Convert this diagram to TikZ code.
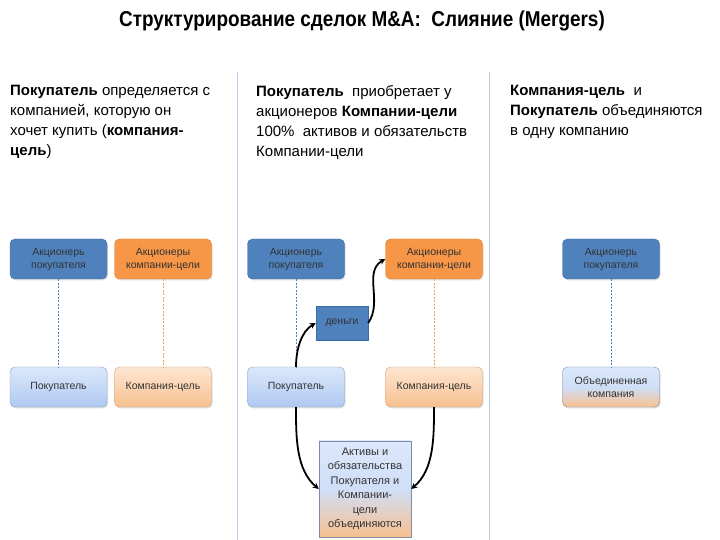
\documentclass[tikz,border=0pt]{standalone}
\usepackage{fontspec}
\setmainfont{Liberation Sans}
\usetikzlibrary{arrows.meta,shadows}
\definecolor{bBlue}{HTML}{4F81BD}
\definecolor{bBlueD}{HTML}{3C6AA6}
\definecolor{bOrange}{HTML}{F79646}
\definecolor{bOrangeD}{HTML}{E07F30}
\definecolor{lBlueT}{HTML}{DCE8FB}
\definecolor{lBlueB}{HTML}{AFC9F2}
\definecolor{lOrT}{HTML}{FDE6D2}
\definecolor{lOrB}{HTML}{F8C090}
\definecolor{sepC}{HTML}{B9CDE5}
\definecolor{txtG}{HTML}{333333}
\begin{document}
\begin{tikzpicture}[x=1pt,y=1pt,
  box/.style={rounded corners=5pt, minimum width=97pt, minimum height=40pt, align=center,
    font=\fontsize{10.5}{13}\selectfont, text=txtG, inner sep=1pt,
    drop shadow={opacity=0.25, shadow xshift=1pt, shadow yshift=-1.5pt}},
  darkblue/.style={box, fill=bBlue, draw=bBlueD},
  darkorange/.style={box, fill=bOrange, draw=bOrangeD},
  lightblue/.style={box, top color=lBlueT, bottom color=lBlueB, draw=lBlueB!80!black},
  lightorange/.style={box, top color=lOrT, bottom color=lOrB, draw=lOrB!85!black},
  mixed/.style={box, top color=lBlueT, bottom color=lOrB, middle color=lBlueB!60!white, draw=lBlueB!70!black},
  bluedash/.style={draw=bBlue, dashed, dash pattern=on 2pt off 1.5pt, line width=0.6pt},
  orangedash/.style={draw=bOrange, dashed, dash pattern=on 2pt off 1.5pt, line width=0.6pt},
  flow/.style={line width=1.8pt, -{Stealth[length=6pt,width=6pt]}},
  coltext/.style={anchor=north west, align=left, inner sep=0pt, font=\fontsize{15}{20}\selectfont},
  sep/.style={draw=sepC, line width=1pt}
]
\useasboundingbox (0,0) rectangle (720,540);
\fill[white] (0,0) rectangle (720,540);

% title
\node[anchor=base, inner sep=0pt, font=\bfseries\fontsize{21.5}{24}\selectfont, xscale=0.88] (title) at (362,513)
  {Структурирование сделок M\&A:\ \ Слияние (Mergers)};

% separators
\coordinate (s1t) at (237,468); \coordinate (s1b) at (237,0);
\coordinate (s2t) at (489,468); \coordinate (s2b) at (489,0);
\draw[sep] (s1t) -- (s1b);
\draw[sep] (s2t) -- (s2b);

% column texts
\node[coltext] (t1) at (10,455) {\textbf{Покупатель} определяется с\\компанией, которую он\\хочет купить (\textbf{компания-}\\\textbf{цель})};
\node[coltext] (t2) at (256,455) {\textbf{Покупатель}\ \ приобретает у\\акционеров \textbf{Компании-цели}\\100\%\ \ активов и обязательств\\Компании-цели};
\node[coltext] (t3) at (510,455) {\textbf{Компания-цель}\ \ и\\\textbf{Покупатель} объединяются\\в одну компанию};

% column 1
\node[darkblue] (a1) at (58.5,281) {Акционерь\\покупателя};
\node[darkorange] (a2) at (163,281) {Акционеры\\компании-цели};
\node[lightblue] (b1) at (58.5,153) {Покупатель};
\node[lightorange] (b2) at (163,153) {Компания-цель};
\draw[bluedash] (a1) -- (b1);
\draw[orangedash] (a2) -- (b2);

% column 2
\node[darkblue] (c1) at (296,281) {Акционерь\\покупателя};
\node[darkorange] (c2) at (434,281) {Акционеры\\компании-цели};
\node[lightblue] (d1) at (296,153) {Покупатель};
\node[lightorange] (d2) at (434,153) {Компания-цель};
\draw[bluedash] (c1) -- (d1);
\draw[orangedash] (c2) -- (d2);
\node[box, rounded corners=0pt, fill=bBlue, draw=bBlueD, minimum width=52pt, minimum height=34pt] (money) at (342,217) {деньги};
\node[mixed, rounded corners=0pt, minimum width=92pt, minimum height=96pt, font=\fontsize{11}{14.5}\selectfont] (e) at (365,51)
  {Активы и\\обязательства\\Покупателя и\\Компании-\\цели\\объединяются};
\draw[flow] (d1.north) to[out=90,in=210,looseness=0.9] (money.west);
\draw[flow] (money.east) to[out=55,in=210,looseness=1] (c2.west);
\draw[flow] (d1.south) to[out=-90,in=140,looseness=0.9] (e.west);
\draw[flow] (d2.south) to[out=-90,in=40,looseness=0.9] (e.east);

% column 3
\node[darkblue] (f1) at (611,281) {Акционерь\\покупателя};
\node[mixed] (f2) at (611,153) {Объединенная\\компания};
\draw[bluedash] (f1) -- (f2);
\end{tikzpicture}
\end{document}
